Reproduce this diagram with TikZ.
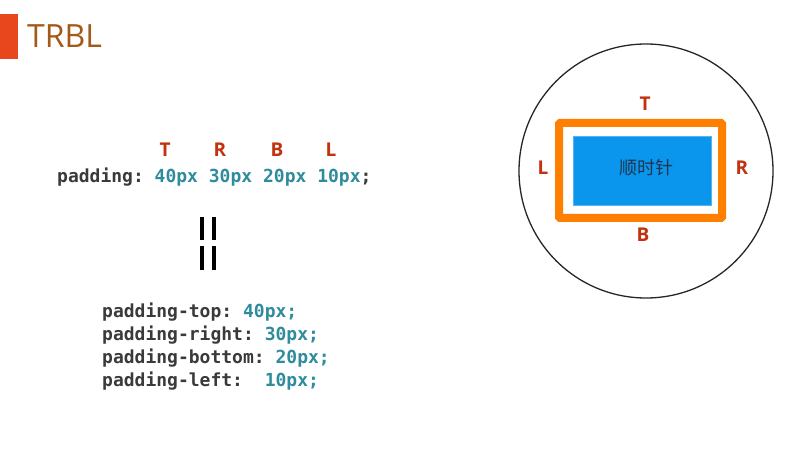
\documentclass[tikz,border=0pt]{standalone}
\usepackage{fontspec}
\setmainfont{Open Sans}
\setmonofont{DejaVu Sans Mono}
\newfontfamily\cjk{Noto Sans CJK SC}
\definecolor{titlebar}{HTML}{E8461C}
\definecolor{titletext}{HTML}{A35A16}
\definecolor{letred}{HTML}{C2320E}
\definecolor{codegray}{HTML}{3A3A3A}
\definecolor{codeteal}{HTML}{2E8C9C}
\definecolor{boxorange}{HTML}{FF7F00}
\definecolor{boxblue}{HTML}{0A96EC}
\definecolor{cjktext}{HTML}{1E3550}
\begin{document}
\begin{tikzpicture}[x=1pt,y=-1pt,
  letter/.style={font=\fontsize{19}{22}\selectfont\bfseries, text=letred, inner sep=0pt},
  code/.style={font=\fontsize{18}{22}\ttfamily\bfseries, text=codegray, inner sep=0pt, anchor=base west},
  eqbar/.style={line width=4pt, black}]
\useasboundingbox (0,0) rectangle (811,449);
\fill[white] (0,0) rectangle (811,449);
% title
\fill[titlebar] (0,14) rectangle (18,59) coordinate (tb);
\node[anchor=base west, inner sep=0pt, text=titletext, font=\fontsize{32}{36}\selectfont] (title) at (27,48) {TRBL};
% shorthand
\node[code] (short) at (57,183) {padding: \textcolor{codeteal}{40px 30px 20px 10px};};
\node[letter] (sT) at (165,150) {T};
\node[letter] (sR) at (220,150) {R};
\node[letter] (sB) at (277,150) {B};
\node[letter] (sL) at (331,150) {L};
% equals sign (rotated)
\coordinate (e1a) at (202,217); \coordinate (e1b) at (202,240);
\coordinate (e2a) at (214,217); \coordinate (e2b) at (214,240);
\coordinate (e3a) at (202,246); \coordinate (e3b) at (202,270);
\coordinate (e4a) at (214,246); \coordinate (e4b) at (214,270);
\draw[eqbar] (e1a) -- (e1b);
\draw[eqbar] (e2a) -- (e2b);
\draw[eqbar] (e3a) -- (e3b);
\draw[eqbar] (e4a) -- (e4b);
% longhand
\node[code] (ptop) at (102,317) {padding-top: \textcolor{codeteal}{40px;}};
\node[code] (pright) at (102,340) {padding-right: \textcolor{codeteal}{30px;}};
\node[code] (pbottom) at (102,363) {padding-bottom: \textcolor{codeteal}{20px;}};
\node[code] (pleft) at (102,386) {padding-left:\ \ \textcolor{codeteal}{10px;}};
% circle diagram
\node[circle, draw=black!85, line width=1.3pt, minimum size=254pt, inner sep=0pt] (circ) at (646,171) {};
\draw[boxorange, line width=8pt, rounded corners=1pt] (559,123) rectangle (722,218);
\node[fill=boxblue, draw=boxblue!70!white, line width=0.6pt, minimum width=138pt, minimum height=69pt, inner sep=0pt] (blue) at (642,170.5) {};
\node[text=cjktext, font=\fontsize{18}{20}\cjk, inner sep=0pt] (cw) at (646,168) {顺时针};
\node[letter] (cT) at (645,104) {T};
\node[letter] (cL) at (543,168) {L};
\node[letter] (cR) at (742,168) {R};
\node[letter] (cB) at (643,235) {B};
\end{tikzpicture}
\end{document}
